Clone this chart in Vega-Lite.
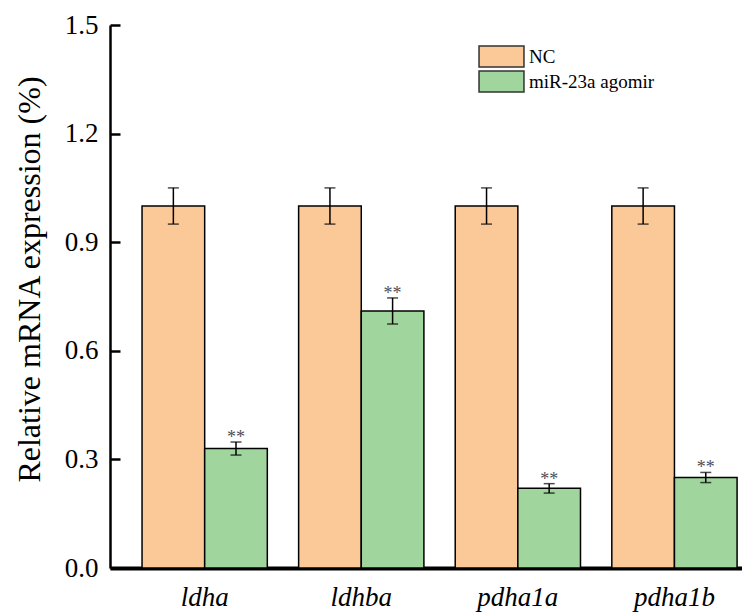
{
  "$schema": "https://vega.github.io/schema/vega-lite/v6.json",
  "width": 632,
  "height": 543,
  "autosize": {"type": "none"},
  "padding": {"left": 110, "top": 25, "right": 0, "bottom": 44},
  "background": "white",
  "config": {"view": {"stroke": null}, "font": "Liberation Serif", "axis": {"grid": false}},
  "data": {"values": [
    {"gene": "ldha", "group": "NC", "value": 1.0, "err": 0.05, "sig": ""},
    {"gene": "ldha", "group": "miR-23a agomir", "value": 0.33, "err": 0.018, "sig": "**"},
    {"gene": "ldhba", "group": "NC", "value": 1.0, "err": 0.05, "sig": ""},
    {"gene": "ldhba", "group": "miR-23a agomir", "value": 0.71, "err": 0.036, "sig": "**"},
    {"gene": "pdha1a", "group": "NC", "value": 1.0, "err": 0.05, "sig": ""},
    {"gene": "pdha1a", "group": "miR-23a agomir", "value": 0.22, "err": 0.013, "sig": "**"},
    {"gene": "pdha1b", "group": "NC", "value": 1.0, "err": 0.05, "sig": ""},
    {"gene": "pdha1b", "group": "miR-23a agomir", "value": 0.25, "err": 0.014, "sig": "**"}
  ]},
  "transform": [{"calculate": "datum.value + datum.err", "as": "hi"}],
  "encoding": {
    "x": {
      "field": "gene", "type": "nominal", "sort": ["ldha", "ldhba", "pdha1a", "pdha1b"],
      "scale": {"paddingInner": 0.2, "paddingOuter": 0.118, "align": 0.867},
      "axis": {"title": null, "labelAngle": 0, "labelFont": "Times New Roman, Liberation Serif, serif", "labelFontStyle": "italic", "labelFontWeight": "normal", "labelFontSize": 27, "labelColor": "black", "ticks": false, "domainColor": "black", "domainWidth": 4, "labelBaseline": "alphabetic", "labelPadding": 37}
    },
    "xOffset": {"field": "group", "type": "nominal", "sort": ["NC", "miR-23a agomir"], "scale": {"paddingInner": 0, "paddingOuter": 0}}
  },
  "layer": [
    {
      "mark": {"type": "bar", "stroke": "black", "strokeWidth": 1.5},
      "encoding": {
        "y": {
          "field": "value", "type": "quantitative", "title": "Relative mRNA expression (%)",
          "scale": {"domain": [0, 1.5], "nice": false},
          "axis": {"values": [0, 0.3, 0.6, 0.9, 1.2, 1.5], "format": ".1f", "labelFontSize": 27, "labelColor": "black", "labelFont": "Liberation Serif", "tickSize": -10, "tickWidth": 2.5, "tickColor": "black", "domainColor": "black", "domainWidth": 2.5, "labelPadding": 22, "labelFlush": false, "titleFont": "Liberation Serif", "titleFontSize": 32, "titleFontWeight": "normal", "titleColor": "black", "titleX": -81, "titleY": 254, "titleAngle": -90, "titleAlign": "center", "titleBaseline": "middle"}
        },
        "color": {
          "field": "group", "type": "nominal",
          "scale": {"domain": ["NC", "miR-23a agomir"], "range": ["#FBC898", "#A0D69D"]},
          "legend": {"title": null, "orient": "none", "legendX": 380, "legendY": 20, "symbolType": "M-2.14,-1H2.14V1H-2.14Z", "symbolSize": 441, "symbolStrokeColor": "#333", "symbolStrokeWidth": 1.5, "symbolOpacity": 1, "labelFont": "Liberation Serif", "labelFontSize": 19, "labelColor": "black", "labelOffset": 16, "rowPadding": -3}
        }
      }
    },
    {
      "mark": {"type": "errorbar", "ticks": {"size": 11, "color": "black", "thickness": 1.5}, "rule": {"strokeWidth": 1.5, "color": "black"}},
      "encoding": {
        "y": {"field": "value", "type": "quantitative", "title": "Relative mRNA expression (%)"},
        "yError": {"field": "err"}
      }
    },
    {
      "mark": {"type": "text", "font": "Liberation Serif", "fontSize": 18, "color": "#4d4d57", "baseline": "alphabetic", "dy": 1},
      "encoding": {
        "y": {"field": "hi", "type": "quantitative", "title": "Relative mRNA expression (%)"},
        "text": {"field": "sig"}
      }
    }
  ]
}
